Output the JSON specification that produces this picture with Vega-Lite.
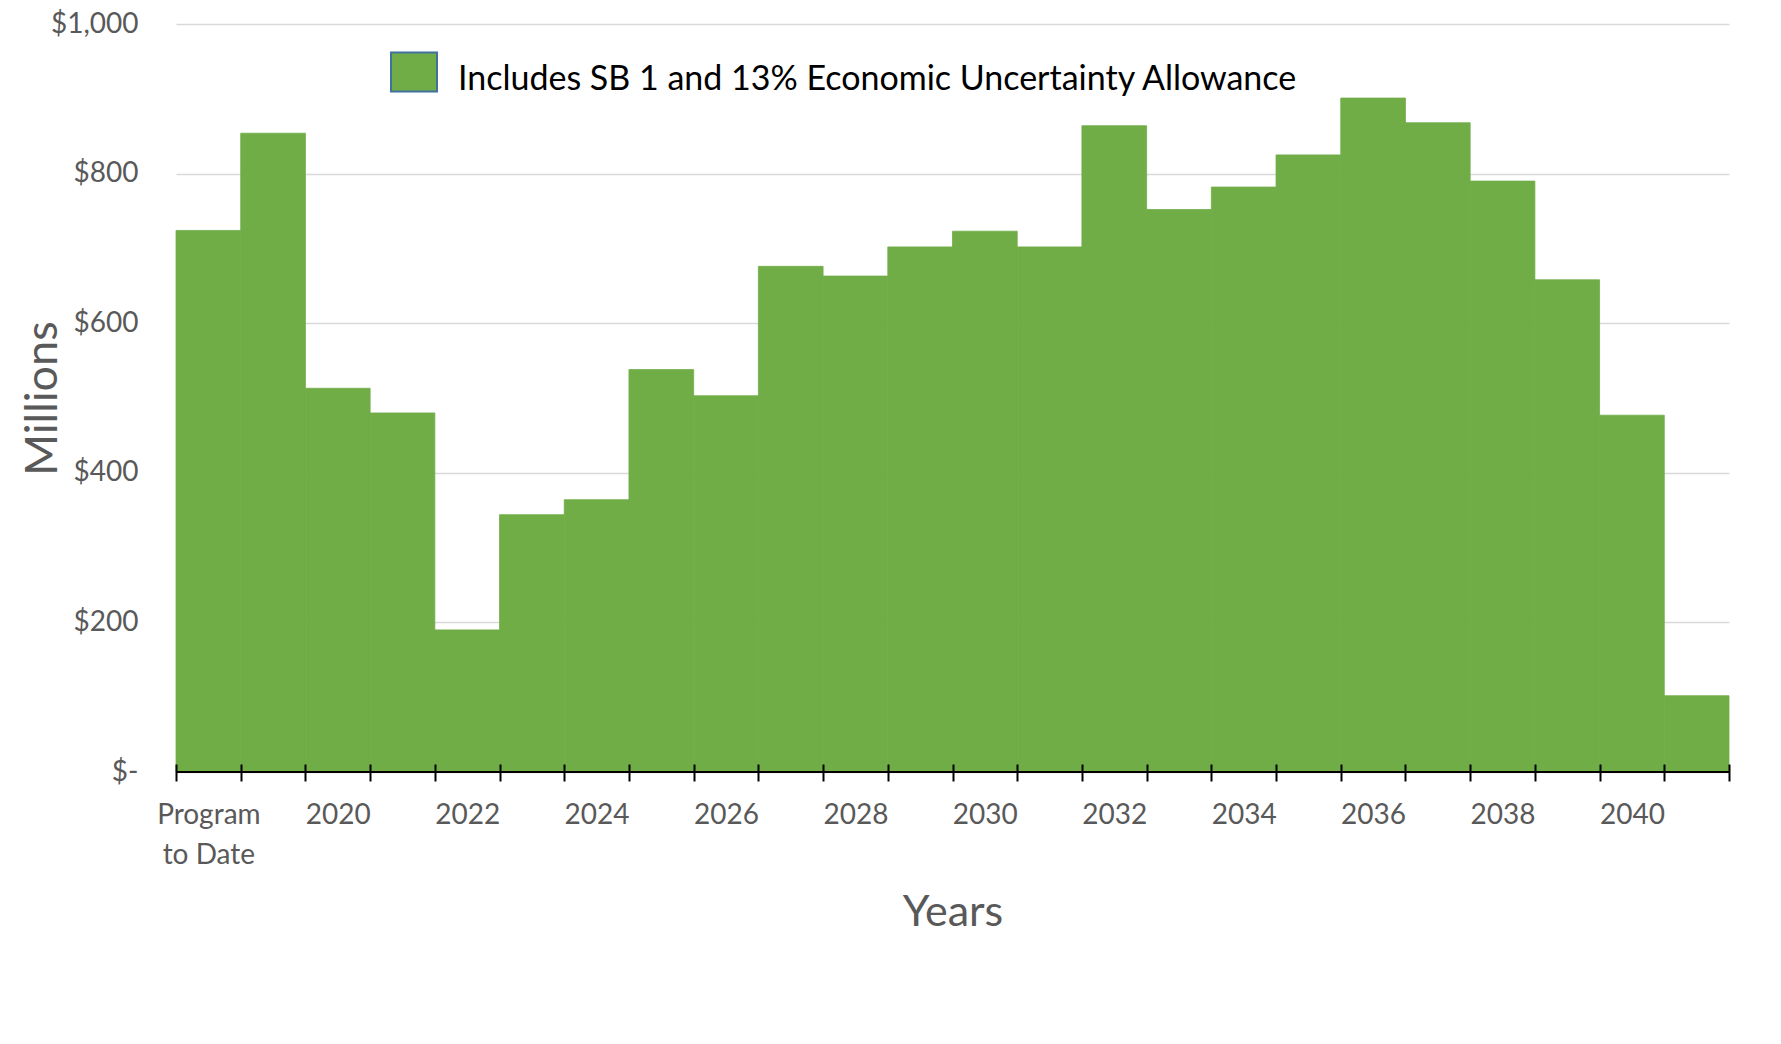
{
  "$schema": "https://vega.github.io/schema/vega-lite/v6.json",
  "width": 1553,
  "height": 748,
  "autosize": {"type": "none"},
  "padding": {"left": 176, "top": 24, "right": 52, "bottom": 272},
  "background": "white",
  "config": {"font": "Lato", "view": {"stroke": null}},
  "data": {
    "values": [
      {"period": "Program to Date", "value": 724},
      {"period": "2019", "value": 854},
      {"period": "2020", "value": 513},
      {"period": "2021", "value": 480},
      {"period": "2022", "value": 190},
      {"period": "2023", "value": 344},
      {"period": "2024", "value": 364},
      {"period": "2025", "value": 538},
      {"period": "2026", "value": 503},
      {"period": "2027", "value": 676},
      {"period": "2028", "value": 663},
      {"period": "2029", "value": 702},
      {"period": "2030", "value": 723},
      {"period": "2031", "value": 702},
      {"period": "2032", "value": 864},
      {"period": "2033", "value": 752},
      {"period": "2034", "value": 782},
      {"period": "2035", "value": 825},
      {"period": "2036", "value": 901},
      {"period": "2037", "value": 868},
      {"period": "2038", "value": 790},
      {"period": "2039", "value": 658},
      {"period": "2040", "value": 477},
      {"period": "2041", "value": 102}
    ]
  },
  "layer": [
    {
      "mark": {"type": "bar", "stroke": "#70ad47", "strokeWidth": 0.8},
      "encoding": {
        "x": {
          "field": "period",
          "type": "nominal",
          "sort": null,
          "scale": {"paddingInner": 0, "paddingOuter": 0},
          "axis": {
            "title": "Years",
            "labelAngle": 0,
            "labelExpr": "datum.label == 'Program to Date' ? ['Program', 'to Date'] : (toNumber(datum.label) % 2 == 0 ? datum.label : '')",
            "labelOverlap": false,
            "tickBand": "extent",
            "tickSize": 17,
            "tickColor": "black",
            "tickWidth": 2,
            "domain": false,
            "offset": -8,
            "labelPadding": 20,
            "labelFontSize": 28,
            "labelColor": "#595959",
            "labelLineHeight": 40,
            "titleFontSize": 43,
            "titleColor": "#595959",
            "titleFontWeight": "normal",
            "titleY": 148,
            "titleBaseline": "middle",
            "zindex": 1,
            "grid": false
          }
        },
        "y": {
          "field": "value",
          "type": "quantitative",
          "scale": {"domain": [0, 1000], "nice": false},
          "axis": {
            "title": "Millions",
            "values": [0, 200, 400, 600, 800, 1000],
            "labelExpr": "datum.value == 0 ? '$-' : '$' + format(datum.value, ',')",
            "domain": false,
            "ticks": false,
            "labelPadding": 38,
            "labelFontSize": 28,
            "labelColor": "#595959",
            "gridColor": "#d9d9d9",
            "gridWidth": 1.5,
            "titleFontSize": 45,
            "titleFontWeight": "normal",
            "titleColor": "#595959",
            "titleX": -134,
            "titleY": 374,
            "titleBaseline": "middle"
          }
        },
        "color": {
          "datum": "Includes SB 1 and 13% Economic Uncertainty Allowance",
          "scale": {"range": ["#70ad47"]},
          "legend": {
            "title": null,
            "orient": "none",
            "legendX": 214,
            "legendY": 32,
            "padding": 0,
            "labelFontSize": 34,
            "labelColor": "black",
            "labelLimit": 0,
            "labelOffset": 20,
            "symbolType": "M-1,-1.2H1V0.5H-1Z",
            "symbolSize": 2116,
            "symbolStrokeColor": "#41719c",
            "symbolStrokeWidth": 2,
            "symbolOpacity": 1
          }
        }
      }
    },
    {
      "mark": {"type": "rule", "color": "black", "strokeWidth": 2},
      "encoding": {"y": {"datum": 0}}
    }
  ]
}
